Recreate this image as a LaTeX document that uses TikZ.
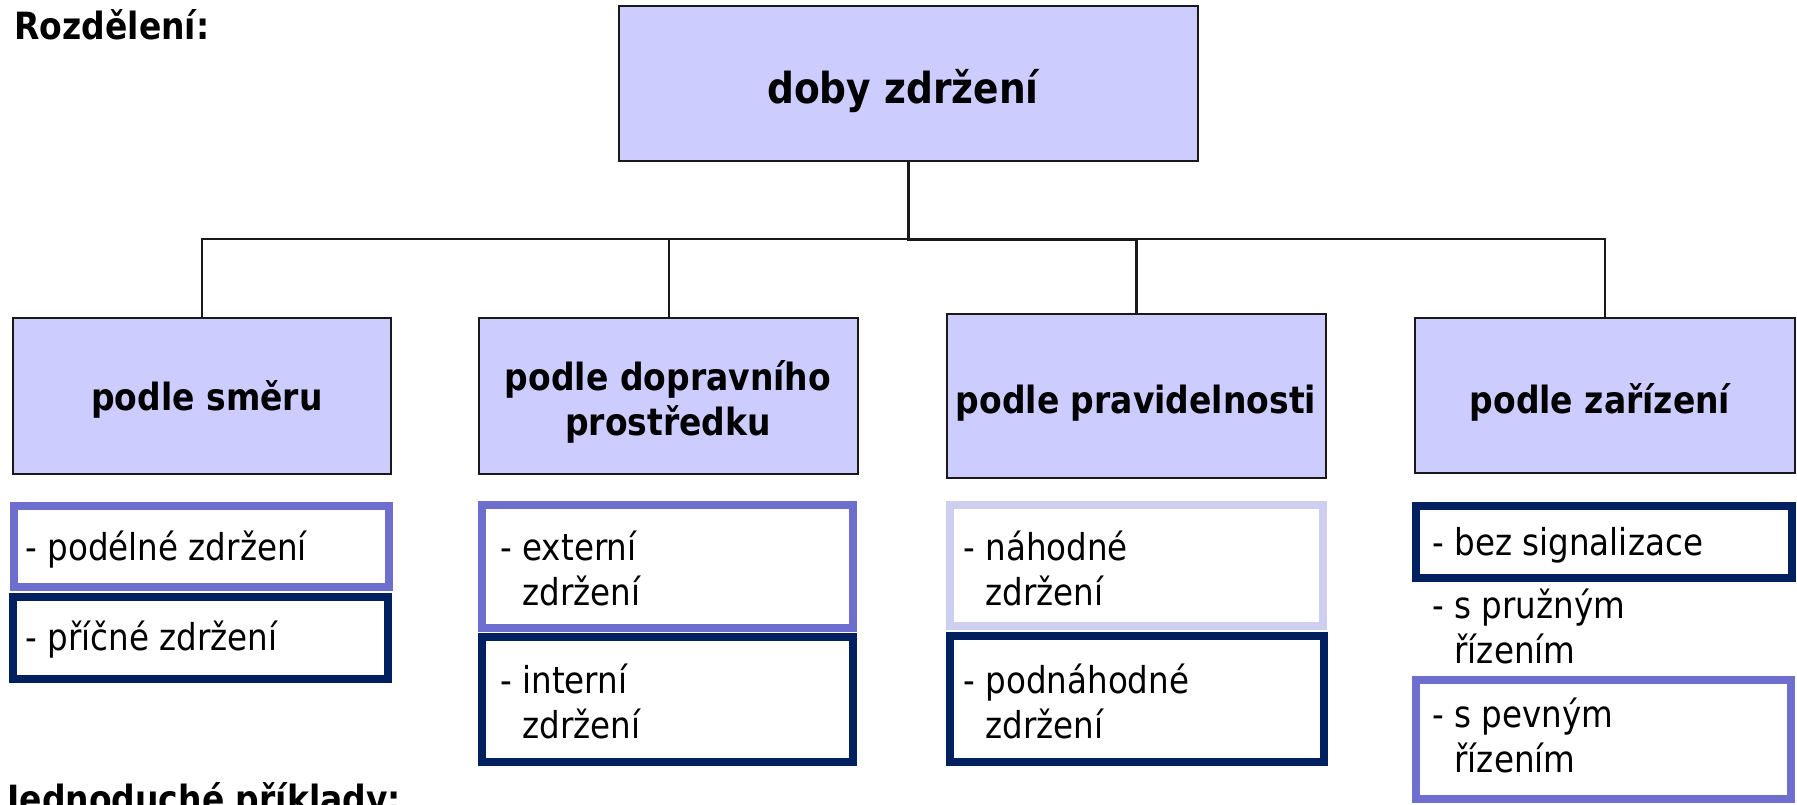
\documentclass[tikz,border=0pt]{standalone}
\usepackage{fontspec}
\setmainfont{DejaVu Sans}[FakeStretch=0.88]
\definecolor{boxfill}{RGB}{204,204,255}
\definecolor{purpleb}{RGB}{110,110,206}
\definecolor{navyb}{RGB}{0,32,96}
\definecolor{lightb}{RGB}{206,206,240}
\tikzset{
  lvl/.style={draw=black!90, line width=1.25pt, fill=boxfill, inner sep=0pt},
  leaf/.style={line width=4pt, fill=white, inner sep=0pt},
  conn/.style={draw=black!90, line width=1pt},
  trunk/.style={draw=black!90, line width=1.5pt},
  hd/.style={font=\fontsize{18.75}{22.5}\selectfont\bfseries, inner sep=0pt},
  tt/.style={font=\fontsize{18.75}{22.5}\selectfont\bfseries, inner sep=0pt, align=center},
  txt/.style={font=\fontsize{18.5}{22.5}\selectfont, inner sep=0pt, align=left, anchor=base west}
}
\begin{document}
\begin{tikzpicture}[x=0.5pt,y=-0.5pt]
\useasboundingbox (0,0) rectangle (1797,804);
\clip (0,0) rectangle (1797,804);
\fill[white] (0,0) rectangle (1797,804);

% heading
\node[hd, anchor=base west] (rozd) at (14,39) {Rozdělení:};
\node[hd, anchor=base west] (jedn) at (7,812) {Jednoduché příklady:};

% top box
\node[lvl, minimum width=289.5pt, minimum height=77.5pt] (top) at (908.5,83.5) {};
\node[font=\fontsize{21.35}{25}\selectfont\bfseries, inner sep=0pt, anchor=base] (toptxt) at (903,103) {doby zdržení};

% level 2
\node[lvl, minimum width=189pt, minimum height=78pt] (b1) at (202,396) {};
\node[lvl, minimum width=189.5pt, minimum height=78pt] (b2) at (668.5,396) {};
\node[lvl, minimum width=189.5pt, minimum height=82pt] (b3) at (1136.5,396) {};
\node[lvl, minimum width=190pt, minimum height=77.5pt] (b4) at (1605,395.5) {};

\node[tt, anchor=base] (b1t) at (207,410) {podle směru};
\node[tt, anchor=base] (b2t) at (668,435) {podle dopravního\\prostředku};
\node[tt, anchor=base] (b3t) at (1136,413) {podle pravidelnosti};
\node[tt, anchor=base] (b4t) at (1600,413) {podle zařízení};

% connectors
\coordinate (bus) at (0,239);
\draw[trunk] (top.south) -- (top.south |- bus) -| (b3.north);
\draw[conn] (top.south |- bus) -| (b1.north);
\draw[conn] (top.south |- bus) -| (b2.north);
\draw[conn] (top.south |- bus) -| (b4.north);

% level 3 boxes
\node[leaf, draw=purpleb, minimum width=187.5pt, minimum height=40.5pt] (c1a) at (201.5,546.5) {};
\node[leaf, draw=navyb, minimum width=187.5pt, minimum height=41pt] (c1b) at (200.5,638) {};
\node[leaf, draw=purpleb, minimum width=185.5pt, minimum height=61.5pt] (c2a) at (667.5,566.5) {};
\node[leaf, draw=navyb, minimum width=185.5pt, minimum height=62.5pt] (c2b) at (667.5,699.5) {};
\node[leaf, draw=lightb, minimum width=186.5pt, minimum height=60.5pt] (c3a) at (1136.5,565.5) {};
\node[leaf, draw=navyb, minimum width=187pt, minimum height=63pt] (c3b) at (1137,699) {};
\node[leaf, draw=navyb, minimum width=188pt, minimum height=36pt] (c4a) at (1604,542) {};
\node[leaf, draw=purpleb, minimum width=187.5pt, minimum height=59.5pt] (c4b) at (1603.5,739.5) {};

% level 3 texts (anchor = baseline of last line)
\node[txt] (t1a) at (25,560) {- podélné zdržení};
\node[txt] (t1b) at (25,650) {- příčné zdržení};
\node[txt] (t2a) at (500,605) {- externí\\\hphantom{- }zdržení};
\node[txt] (t2b) at (500,738) {- interní\\\hphantom{- }zdržení};
\node[txt] (t3a) at (963,605) {- náhodné\\\hphantom{- }zdržení};
\node[txt] (t3b) at (963,738) {- podnáhodné\\\hphantom{- }zdržení};
\node[txt] (t4a) at (1432,555) {- bez signalizace};
\node[txt] (t4m) at (1432,663) {- s pružným\\\hphantom{- }řízením};
\node[txt] (t4b) at (1432,772) {- s pevným\\\hphantom{- }řízením};
\end{tikzpicture}
\end{document}
